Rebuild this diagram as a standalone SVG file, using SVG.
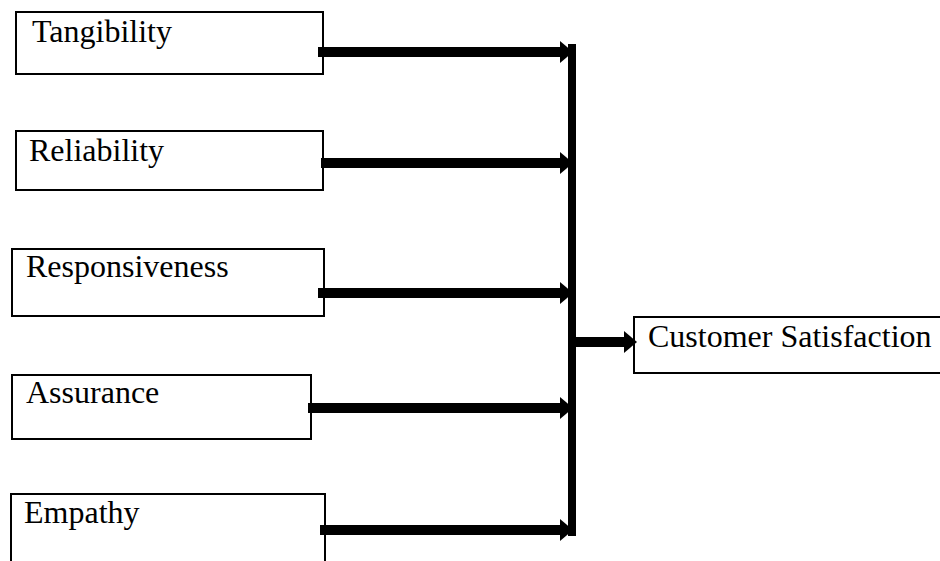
<svg xmlns="http://www.w3.org/2000/svg" width="940" height="561" viewBox="0 0 940 561">
  <style>
    .box { fill: #ffffff; stroke: #000000; stroke-width: 2; }
    .label { font-family: "Liberation Serif", "Times New Roman", serif; font-size: 32px; fill: #000000; }
    .wire { stroke: #000000; stroke-width: 10; fill: none; }
    .bar { fill: #000000; }
  </style>
  <defs>
    <marker id="head" markerUnits="userSpaceOnUse" markerWidth="13" markerHeight="22" refX="2" refY="11" orient="auto">
      <path d="M0,0 L13,11 L0,22 z" fill="#000000"/>
    </marker>
  </defs>

  <!-- dimension boxes -->
  <g id="tangibility">
    <rect class="box" x="16" y="12" width="307" height="62"/>
    <text class="label" x="32" y="42">Tangibility</text>
  </g>
  <g id="reliability">
    <rect class="box" x="16" y="131" width="307" height="59"/>
    <text class="label" x="29" y="161">Reliability</text>
  </g>
  <g id="responsiveness">
    <rect class="box" x="12" y="249" width="312" height="67"/>
    <text class="label" x="26" y="277">Responsiveness</text>
  </g>
  <g id="assurance">
    <rect class="box" x="12" y="375" width="299" height="64"/>
    <text class="label" x="26" y="403">Assurance</text>
  </g>
  <g id="empathy">
    <rect class="box" x="11" y="494" width="314" height="80"/>
    <text class="label" x="24" y="523">Empathy</text>
  </g>

  <!-- outcome box (runs off the right edge) -->
  <g id="customer-satisfaction">
    <rect class="box" x="634" y="317" width="320" height="56"/>
    <text class="label" x="648" y="347">Customer Satisfaction</text>
  </g>

  <!-- connectors -->
  <g id="connectors">
    <line class="wire" x1="318" y1="52" x2="562" y2="52" marker-end="url(#head)"/>
    <line class="wire" x1="321" y1="163" x2="562" y2="163" marker-end="url(#head)"/>
    <line class="wire" x1="318" y1="293" x2="562" y2="293" marker-end="url(#head)"/>
    <line class="wire" x1="308" y1="408" x2="562" y2="408" marker-end="url(#head)"/>
    <line class="wire" x1="320" y1="530" x2="562" y2="530" marker-end="url(#head)"/>
    <rect class="bar" x="568" y="44" width="8" height="492"/>
    <line class="wire" x1="576" y1="342" x2="626" y2="342" marker-end="url(#head)"/>
  </g>
</svg>
